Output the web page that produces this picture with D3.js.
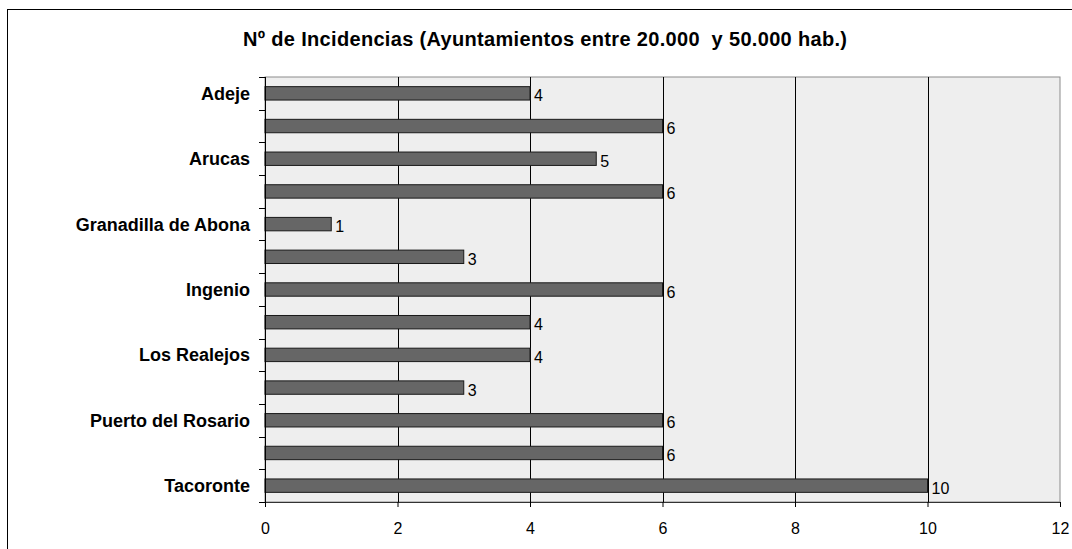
<!DOCTYPE html>
<html>
<head>
<meta charset="utf-8">
<script src="https://cdn.jsdelivr.net/npm/d3@7"></script>
<style>
  html, body { margin: 0; padding: 0; background: #ffffff; }
  svg { display: block; font-family: "Liberation Sans", Arial, sans-serif; }
</style>
</head>
<body>
<svg id="chart" width="1072" height="549"></svg>
<script>
// Municipalities (only every other name is printed on the axis)
const categories = ["Adeje", "", "Arucas", "", "Granadilla de Abona", "", "Ingenio", "",
                    "Los Realejos", "", "Puerto del Rosario", "", "Tacoronte"];
const values = [4, 6, 5, 6, 1, 3, 6, 4, 4, 3, 6, 6, 10];
const xTicks = [0, 2, 4, 6, 8, 10, 12];
const title = "Nº de Incidencias (Ayuntamientos entre 20.000  y 50.000 hab.)";

const svg = d3.select("#chart");
const W = 1072, H = 549;
const plot = { left: 265, right: 1060, top: 77, bottom: 502 };

// outer chart frame (continues past the right and bottom edges)
svg.append("rect")
  .attr("x", 7.5).attr("y", 9.5)
  .attr("width", W + 20).attr("height", H + 20)
  .attr("fill", "#ffffff").attr("stroke", "#000").attr("stroke-width", 1);

svg.append("text")
  .attr("x", 243).attr("y", 46)
  .attr("font-weight", "bold").attr("font-size", 20)
  .attr("textLength", 604).attr("lengthAdjust", "spacing")
  .style("white-space", "pre")
  .text(title);

const idx = categories.map((_, i) => i);
const x = d3.scaleLinear().domain([0, 12]).range([plot.left, plot.right]);
const y = d3.scaleBand().domain(idx).range([plot.top, plot.bottom]).paddingInner(0).paddingOuter(0);
const barH = y.bandwidth() * 0.41;

// plot background
svg.append("rect")
  .attr("x", plot.left).attr("y", plot.top)
  .attr("width", plot.right - plot.left).attr("height", plot.bottom - plot.top)
  .attr("fill", "#eeeeee").attr("stroke", "#8c8c8c").attr("stroke-width", 1);

// vertical gridlines
svg.append("g").selectAll("line")
  .data(xTicks.filter(d => d > 0 && d < 12))
  .join("line")
  .attr("x1", d => Math.round(x(d)) + 0.5).attr("x2", d => Math.round(x(d)) + 0.5)
  .attr("y1", plot.top).attr("y2", plot.bottom)
  .attr("stroke", "#000").attr("stroke-width", 1);

// bars
svg.append("g").selectAll("rect")
  .data(values)
  .join("rect")
  .attr("x", x(0))
  .attr("y", (d, i) => y(i) + (y.bandwidth() - barH) / 2)
  .attr("width", d => x(d) - x(0))
  .attr("height", barH)
  .attr("fill", "#666666")
  .attr("stroke", "#1a1a1a").attr("stroke-width", 1);

// value labels
svg.append("g").selectAll("text")
  .data(values)
  .join("text")
  .attr("x", d => x(d) + 4)
  .attr("y", (d, i) => y(i) + y.bandwidth() / 2 + 8)
  .attr("font-size", 16).attr("fill", "#000")
  .text(d => d);

// x axis
const xAxis = d3.axisBottom(x).tickValues(xTicks).tickSize(5).tickPadding(16).tickFormat(d3.format("d"));
const gx = svg.append("g").attr("transform", `translate(0,${plot.bottom})`).call(xAxis);
gx.select(".domain").attr("stroke", "#333");
gx.selectAll(".tick line").attr("stroke", "#000");
gx.selectAll(".tick text").attr("font-size", 16).attr("fill", "#000")
  .attr("font-family", "Liberation Sans, Arial, sans-serif");

// y axis: ticks at band boundaries, names centred on bands
const bounds = d3.range(categories.length + 1).map(i => plot.top + i * y.bandwidth());
const gy = svg.append("g");
gy.append("line")
  .attr("x1", plot.left + 0.5).attr("x2", plot.left + 0.5)
  .attr("y1", plot.top).attr("y2", plot.bottom)
  .attr("stroke", "#000");
gy.selectAll("line.tk")
  .data(bounds)
  .join("line").attr("class", "tk")
  .attr("x1", plot.left - 6).attr("x2", plot.left)
  .attr("y1", d => Math.round(d) + 0.5).attr("y2", d => Math.round(d) + 0.5)
  .attr("stroke", "#000");
gy.selectAll("text")
  .data(categories)
  .join("text")
  .attr("x", plot.left - 15)
  .attr("y", (d, i) => y(i) + y.bandwidth() / 2 + 6.5)
  .attr("text-anchor", "end")
  .attr("font-weight", "bold").attr("font-size", 18)
  .text(d => d);
</script>
</body>
</html>
